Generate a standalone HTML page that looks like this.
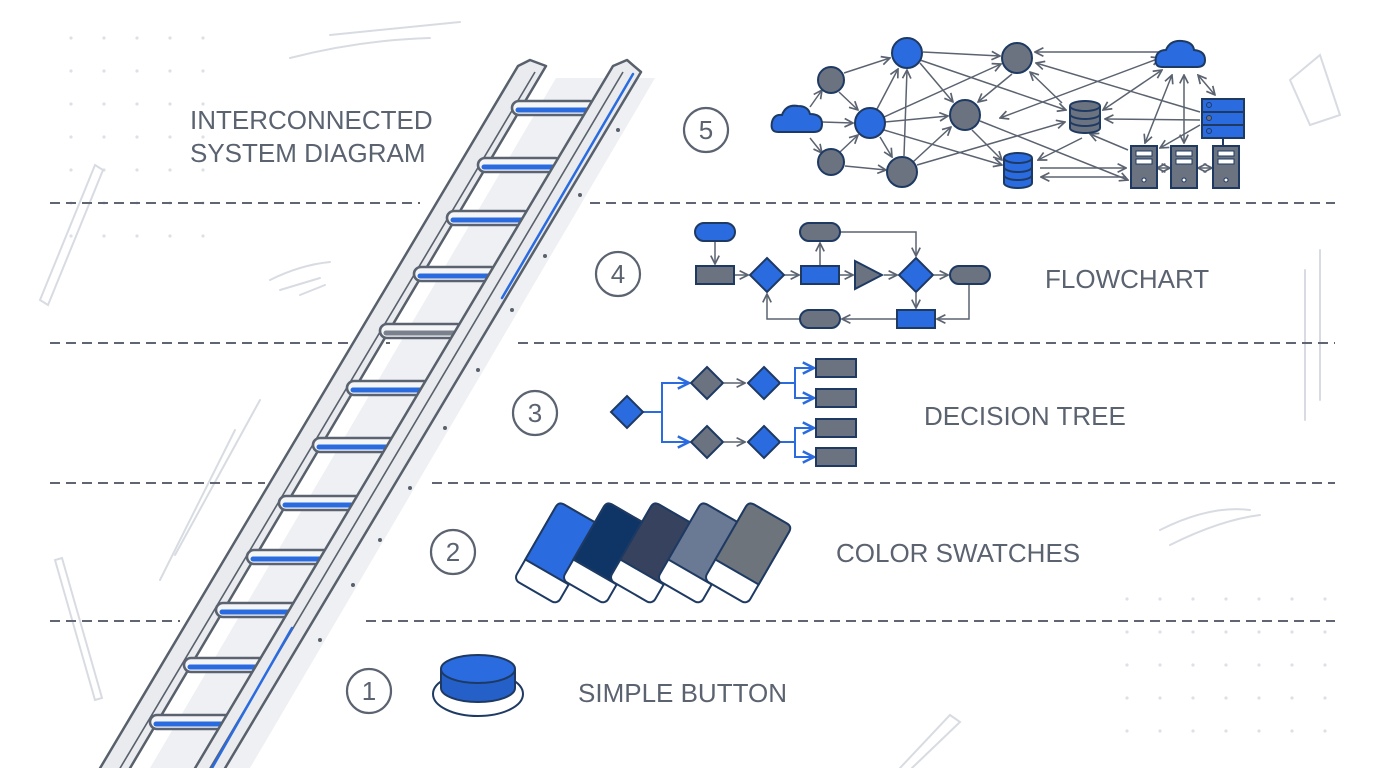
<!DOCTYPE html>
<html><head><meta charset="utf-8"><style>
html,body{margin:0;padding:0;background:#fff;}
svg{display:block;}
text{font-family:"Liberation Sans",sans-serif;fill:#5b6370;}
</style></head><body>
<svg width="1376" height="768" viewBox="0 0 1376 768" xmlns="http://www.w3.org/2000/svg">
<defs>
<marker id="a" viewBox="0 0 10 10" refX="9" refY="5" markerWidth="7" markerHeight="7" orient="auto-start-reverse"><path d="M1,1 L9,5 L1,9" fill="none" stroke="#5b6370" stroke-width="1.6"/></marker>
<marker id="b" viewBox="0 0 10 10" refX="9" refY="5" markerWidth="7" markerHeight="7" orient="auto-start-reverse"><path d="M1,1 L9,5 L1,9" fill="none" stroke="#2a6be0" stroke-width="1.8"/></marker>
<pattern id="dots" width="33" height="33" patternUnits="userSpaceOnUse"><circle cx="5" cy="5" r="1.6" fill="#dde0e5"/></pattern>
</defs>
<rect width="1376" height="768" fill="#fff"/>
<rect x="50" y="25" width="170" height="225" fill="url(#dots)"/>
<rect x="1125" y="570" width="215" height="180" fill="url(#dots)"/>
<g stroke="#d8dce2" stroke-width="2" fill="none" stroke-linecap="round">
<path d="M290,58 Q360,40 430,38"/><path d="M330,35 L460,22"/>
<path d="M40,300 L95,165 L103,170 L48,305 Z"/>
<path d="M270,280 Q300,265 330,262 M280,290 L320,278 M300,295 L325,285"/>
<path d="M175,555 L260,400 M160,580 L235,430"/>
<path d="M55,560 L95,700 L102,698 L62,558 Z"/>
<path d="M1290,80 L1320,55 L1340,115 L1310,125 Z"/>
<path d="M1305,270 L1305,420 M1320,250 L1320,400"/>
<path d="M1160,530 Q1210,505 1250,510 M1170,545 Q1220,520 1260,515"/>
<path d="M900,768 L950,715 L960,722 L912,768"/>
</g>
<g stroke="#5f6672" stroke-width="2" stroke-dasharray="10 6">
<line x1="50" y1="203" x2="420" y2="203"/><line x1="590" y1="203" x2="1335" y2="203"/>
<line x1="50" y1="343" x2="390" y2="343"/><line x1="518" y1="343" x2="1335" y2="343"/>
<line x1="50" y1="483" x2="265" y2="483"/><line x1="432" y1="483" x2="1335" y2="483"/>
<line x1="50" y1="621" x2="180" y2="621"/><line x1="366" y1="621" x2="1335" y2="621"/>
</g>
<!-- ladder shadow -->
<polygon points="556,78 655,78 250,768 150,768" fill="#eef0f3"/>
<!-- left rail -->
<polygon points="518,66 530,60 546,66 123,780 93,780" fill="#e9ebef" stroke="#58606b" stroke-width="2.5" stroke-linejoin="round"/>
<line x1="535" y1="72" x2="113" y2="780" stroke="#58606b" stroke-width="1.6"/>
<!-- rungs -->
<g stroke="#5b6370" stroke-width="2.6" fill="#f4f5f7">
<rect x="512" y="101" width="84" height="14" rx="7"/>
<rect x="478" y="158" width="84" height="14" rx="7"/>
<rect x="447" y="211" width="84" height="14" rx="7"/>
<rect x="414" y="267" width="84" height="14" rx="7"/>
<rect x="380" y="324" width="84" height="14" rx="7"/>
<rect x="347" y="381" width="84" height="14" rx="7"/>
<rect x="313" y="438" width="84" height="14" rx="7"/>
<rect x="279" y="496" width="84" height="14" rx="7"/>
<rect x="247" y="550" width="84" height="14" rx="7"/>
<rect x="216" y="603" width="84" height="14" rx="7"/>
<rect x="184" y="658" width="84" height="14" rx="7"/>
<rect x="150" y="715" width="84" height="14" rx="7"/>
</g>
<g stroke="#2a6be0" stroke-width="5" stroke-linecap="round">
<line x1="518" y1="110" x2="590" y2="110"/><line x1="484" y1="167" x2="556" y2="167"/>
<line x1="453" y1="220" x2="525" y2="220"/><line x1="420" y1="276" x2="492" y2="276"/>
<line x1="386" y1="333" x2="458" y2="333" stroke="#7a818c"/><line x1="353" y1="390" x2="425" y2="390"/>
<line x1="319" y1="447" x2="391" y2="447"/><line x1="285" y1="505" x2="357" y2="505"/>
<line x1="253" y1="559" x2="325" y2="559"/><line x1="222" y1="612" x2="294" y2="612"/>
<line x1="190" y1="667" x2="262" y2="667"/><line x1="156" y1="724" x2="228" y2="724"/>
</g>
<!-- right rail -->
<polygon points="613,66 627,60 641,72 218,780 188,780" fill="#e9ebef" stroke="#58606b" stroke-width="2.5" stroke-linejoin="round"/>
<line x1="623" y1="72" x2="203" y2="780" stroke="#58606b" stroke-width="1.6"/>
<g stroke="#2a6be0" stroke-width="2.5" stroke-linecap="round">
<line x1="633" y1="74" x2="502" y2="298"/>
<line x1="292" y1="628" x2="212" y2="768"/>
</g>
<g fill="#58606b">
<circle cx="618" cy="130" r="2"/><circle cx="580" cy="195" r="2"/><circle cx="545" cy="256" r="2"/><circle cx="512" cy="310" r="2"/><circle cx="478" cy="370" r="2"/><circle cx="445" cy="428" r="2"/><circle cx="410" cy="488" r="2"/><circle cx="380" cy="540" r="2"/><circle cx="353" cy="585" r="2"/><circle cx="320" cy="640" r="2"/>
</g>
<g fill="none" stroke="#5b6370" stroke-width="2.2">
<circle cx="706" cy="130" r="22"/><circle cx="618" cy="274" r="22"/><circle cx="535" cy="413" r="22"/><circle cx="453" cy="552" r="22"/><circle cx="369" cy="691" r="22"/>
</g>
<g font-size="26" text-anchor="middle">
<text x="706" y="139">5</text><text x="618" y="283">4</text><text x="535" y="422">3</text><text x="453" y="561">2</text><text x="369" y="700">1</text>
</g>
<g font-size="26">
<text x="190" y="129">INTERCONNECTED</text>
<text x="190" y="162">SYSTEM DIAGRAM</text>
<text x="1045" y="288">FLOWCHART</text>
<text x="924" y="425">DECISION TREE</text>
<text x="836" y="562">COLOR SWATCHES</text>
<text x="578" y="702">SIMPLE BUTTON</text>
</g>
<g stroke="#5b6370" stroke-width="1.5" marker-end="url(#a)">
<line x1="822" y1="122" x2="853" y2="123"/>
<line x1="810" y1="107" x2="822" y2="90"/>
<line x1="810" y1="138" x2="822" y2="153"/>
<line x1="844" y1="73" x2="890" y2="58"/>
<line x1="839" y1="92" x2="858" y2="110"/>
<line x1="840" y1="152" x2="858" y2="135"/>
<line x1="845" y1="166" x2="886" y2="170"/>
<line x1="877" y1="109" x2="898" y2="69"/>
<line x1="884" y1="117" x2="1001" y2="64"/>
<line x1="885" y1="122" x2="948" y2="116"/>
<line x1="880" y1="137" x2="892" y2="157"/>
<line x1="884" y1="130" x2="1002" y2="165"/>
<line x1="904" y1="156" x2="907" y2="70"/>
<line x1="913" y1="162" x2="951" y2="127"/>
<line x1="917" y1="165" x2="1065" y2="122"/>
<line x1="923" y1="52" x2="1000" y2="56"/>
<line x1="920" y1="63" x2="953" y2="102"/>
<line x1="920" y1="60" x2="1066" y2="110"/>
<line x1="1012" y1="74" x2="978" y2="102"/>
<line x1="980" y1="121" x2="1128" y2="180"/>
<line x1="972" y1="130" x2="1002" y2="160"/>
<line x1="1160" y1="52" x2="1035" y2="52"/>
<line x1="1200" y1="112" x2="1036" y2="63"/>
<line x1="1200" y1="120" x2="1105" y2="119"/>
<line x1="1040" y1="168" x2="1126" y2="168"/>
<line x1="1126" y1="177" x2="1041" y2="177"/>
<line x1="1082" y1="138" x2="1038" y2="160"/>
<line x1="1128" y1="150" x2="1090" y2="134"/>
<line x1="1200" y1="125" x2="1160" y2="148"/>
<line x1="1062" y1="103" x2="1030" y2="72" />
</g>
<g stroke="#5b6370" stroke-width="1.5" marker-start="url(#a)" marker-end="url(#a)">
<line x1="1103" y1="110" x2="1162" y2="70"/>
<line x1="1000" y1="118" x2="1160" y2="58"/>
<line x1="1172" y1="75" x2="1145" y2="143"/>
<line x1="1184" y1="75" x2="1184" y2="143"/>
<line x1="1198" y1="75" x2="1215" y2="95"/>
<line x1="1157" y1="168" x2="1170" y2="168"/>
<line x1="1198" y1="168" x2="1212" y2="168"/>
</g>
<g stroke="#1e3a63" stroke-width="2">
<path d="M778,132 Q770,132 772,122 Q774,114 782,115 Q786,104 798,106 Q808,106 810,114 Q822,114 822,124 Q822,132 814,132 Z" fill="#2a6be0"/>
<path d="M1162,67 Q1154,67 1156,57 Q1158,50 1166,50 Q1170,40 1182,41 Q1193,42 1194,50 Q1205,51 1205,60 Q1205,67 1197,67 Z" fill="#2a6be0"/>
<circle cx="831" cy="80" r="13" fill="#6b7280"/>
<circle cx="831" cy="162" r="13" fill="#6b7280"/>
<circle cx="870" cy="123" r="15" fill="#2a6be0"/>
<circle cx="907" cy="53" r="15" fill="#2a6be0"/>
<circle cx="902" cy="172" r="15" fill="#6b7280"/>
<circle cx="1017" cy="58" r="15" fill="#6b7280"/>
<circle cx="965" cy="115" r="15" fill="#6b7280"/>
<g fill="#6b7280"><path d="M1070,106 L1070,128 A15,5 0 0 0 1100,128 L1100,106"/><ellipse cx="1085" cy="106" rx="15" ry="5"/><path d="M1070,114 A15,5 0 0 0 1100,114 M1070,121 A15,5 0 0 0 1100,121" fill="none"/></g>
<g fill="#2a6be0"><path d="M1004,158 L1004,183 A14,5 0 0 0 1032,183 L1032,158"/><ellipse cx="1018" cy="158" rx="14" ry="5"/><path d="M1004,167 A14,5 0 0 0 1032,167 M1004,175 A14,5 0 0 0 1032,175" fill="none"/></g>
<rect x="1202" y="99" width="42" height="39" fill="#2a6be0"/>
<line x1="1202" y1="112" x2="1244" y2="112"/><line x1="1202" y1="125" x2="1244" y2="125"/>
<line x1="1223" y1="138" x2="1223" y2="146"/>
<rect x="1131" y="146" width="26" height="42" fill="#6b7280"/>
<rect x="1171" y="146" width="26" height="42" fill="#6b7280"/>
<rect x="1213" y="146" width="26" height="42" fill="#6b7280"/>
</g>
<g fill="#fff" stroke="#1e3a63" stroke-width="1">
<rect x="1136" y="151" width="16" height="5"/><rect x="1136" y="159" width="16" height="5"/><circle cx="1144" cy="180" r="2"/>
<rect x="1176" y="151" width="16" height="5"/><rect x="1176" y="159" width="16" height="5"/><circle cx="1184" cy="180" r="2"/>
<rect x="1218" y="151" width="16" height="5"/><rect x="1218" y="159" width="16" height="5"/><circle cx="1226" cy="180" r="2"/>
<circle cx="1209" cy="105" r="2.5" fill="#2a6be0"/><circle cx="1209" cy="118" r="2.5" fill="#6b7280"/><circle cx="1209" cy="131" r="2.5" fill="#2a6be0"/>
</g>
<g stroke="#5b6370" stroke-width="1.5" fill="none" marker-end="url(#a)">
<line x1="715" y1="241" x2="715" y2="264"/>
<line x1="734" y1="275" x2="748" y2="275"/>
<line x1="784" y1="275" x2="799" y2="275"/>
<line x1="820" y1="266" x2="820" y2="243"/>
<line x1="840" y1="275" x2="853" y2="275"/>
<line x1="884" y1="275" x2="897" y2="275"/>
<line x1="934" y1="275" x2="948" y2="275"/>
<polyline points="840,232 916,232 916,256"/>
<line x1="916" y1="293" x2="916" y2="308"/>
<polyline points="969,284 969,319 937,319"/>
<line x1="897" y1="319" x2="842" y2="319"/>
<polyline points="800,319 767,319 767,294"/>
</g>
<g stroke="#1e3a63" stroke-width="2">
<rect x="695" y="223" width="40" height="18" rx="9" fill="#2a6be0"/>
<rect x="696" y="266" width="38" height="18" fill="#6b7280"/>
<polygon points="767,258 784,275 767,292 750,275" fill="#2a6be0"/>
<rect x="801" y="266" width="38" height="18" fill="#2a6be0"/>
<rect x="800" y="223" width="40" height="18" rx="9" fill="#6b7280"/>
<polygon points="855,261 882,275 855,289" fill="#6b7280"/>
<polygon points="916,258 933,275 916,292 899,275" fill="#2a6be0"/>
<rect x="950" y="266" width="40" height="18" rx="9" fill="#6b7280"/>
<rect x="897" y="310" width="38" height="18" fill="#2a6be0"/>
<rect x="800" y="310" width="40" height="18" rx="9" fill="#6b7280"/>
</g>
<g stroke="#2a6be0" stroke-width="2" fill="none">
<line x1="643" y1="412" x2="662" y2="412"/>
<polyline points="688,383 662,383 662,442 688,442" />
<polyline points="781,383 795,383"/><polyline points="781,442 795,442"/>
<polyline points="812,368 795,368 795,398 812,398"/>
<polyline points="812,428 795,428 795,457 812,457"/>
</g>
<g stroke="#2a6be0" stroke-width="2" marker-end="url(#b)">
<line x1="678" y1="383" x2="689" y2="383"/><line x1="678" y1="442" x2="689" y2="442"/>
<line x1="805" y1="368" x2="814" y2="368"/><line x1="805" y1="398" x2="814" y2="398"/>
<line x1="805" y1="428" x2="814" y2="428"/><line x1="805" y1="457" x2="814" y2="457"/>
</g>
<g stroke="#5b6370" stroke-width="1.5" marker-end="url(#a)">
<line x1="724" y1="383" x2="745" y2="383"/><line x1="724" y1="442" x2="745" y2="442"/>
</g>
<g stroke="#1e3a63" stroke-width="2">
<polygon points="627,396 643,412 627,428 611,412" fill="#2a6be0"/>
<polygon points="707,367 723,383 707,399 691,383" fill="#6b7280"/>
<polygon points="707,426 723,442 707,458 691,442" fill="#6b7280"/>
<polygon points="764,367 780,383 764,399 748,383" fill="#2a6be0"/>
<polygon points="764,426 780,442 764,458 748,442" fill="#2a6be0"/>
<rect x="816" y="359" width="40" height="18" fill="#6b7280"/>
<rect x="816" y="389" width="40" height="18" fill="#6b7280"/>
<rect x="816" y="419" width="40" height="18" fill="#6b7280"/>
<rect x="816" y="448" width="40" height="18" fill="#6b7280"/>
</g>
<g stroke="#1e3a63" stroke-width="2">
<g transform="translate(558,553) rotate(30)"><rect x="-25" y="-45" width="50" height="90" rx="6" fill="#fff"/><path d="M-25,22 L-25,-39 Q-25,-45 -19,-45 L19,-45 Q25,-45 25,-39 L25,22 Z" fill="#2a6be0"/></g>
<g transform="translate(606,553) rotate(30)"><rect x="-25" y="-45" width="50" height="90" rx="6" fill="#fff"/><path d="M-25,22 L-25,-39 Q-25,-45 -19,-45 L19,-45 Q25,-45 25,-39 L25,22 Z" fill="#0f3566"/></g>
<g transform="translate(653,553) rotate(30)"><rect x="-25" y="-45" width="50" height="90" rx="6" fill="#fff"/><path d="M-25,22 L-25,-39 Q-25,-45 -19,-45 L19,-45 Q25,-45 25,-39 L25,22 Z" fill="#37425e"/></g>
<g transform="translate(701,553) rotate(30)"><rect x="-25" y="-45" width="50" height="90" rx="6" fill="#fff"/><path d="M-25,22 L-25,-39 Q-25,-45 -19,-45 L19,-45 Q25,-45 25,-39 L25,22 Z" fill="#6a7a94"/></g>
<g transform="translate(748,553) rotate(30)"><rect x="-25" y="-45" width="50" height="90" rx="6" fill="#fff"/><path d="M-25,22 L-25,-39 Q-25,-45 -19,-45 L19,-45 Q25,-45 25,-39 L25,22 Z" fill="#6e747c"/></g>
</g>
<ellipse cx="478" cy="694" rx="45" ry="22" fill="#fff" stroke="#1e3a63" stroke-width="2"/>
<path d="M441,669 L441,688 A37,14 0 0 0 515,688 L515,669" fill="#2560c8" stroke="#1e3a63" stroke-width="2"/>
<ellipse cx="478" cy="669" rx="37" ry="14" fill="#2a6be0" stroke="#1e3a63" stroke-width="2"/>
</svg>
</body></html>
